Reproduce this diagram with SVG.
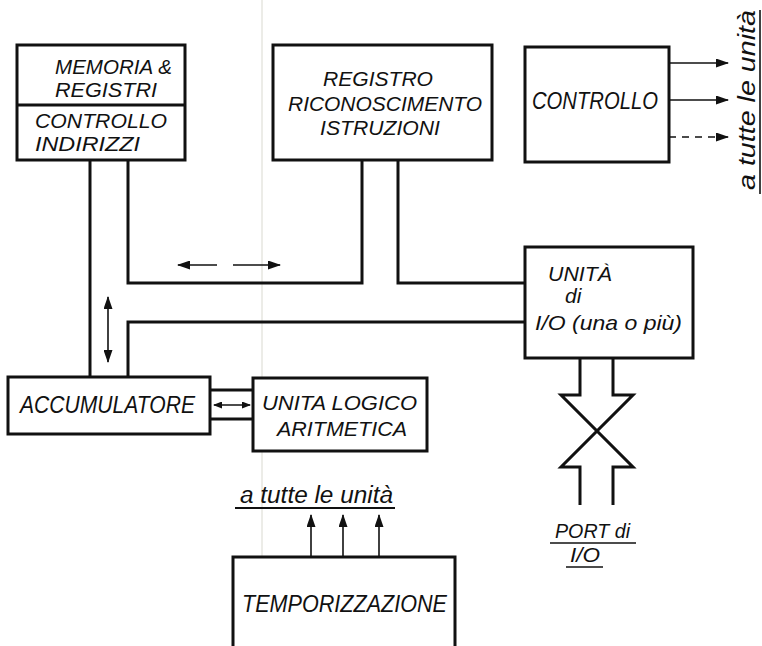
<svg xmlns="http://www.w3.org/2000/svg" width="762" height="646" viewBox="0 0 762 646">
<style>
.box{fill:#fff;stroke:#111;stroke-width:3}
.bus{fill:none;stroke:#111;stroke-width:3}
.thin{fill:none;stroke:#111;stroke-width:1.6}
.t{font-family:"Liberation Sans",Arial,sans-serif;font-style:italic;font-size:21px;fill:#111}
.lt{font-family:"Liberation Sans",Arial,sans-serif;font-style:italic;font-size:23px;fill:#111}
</style>
<defs>
<marker id="ah" markerUnits="userSpaceOnUse" markerWidth="13" markerHeight="9" refX="12" refY="4.5" orient="auto-start-reverse">
<path d="M0,0 L13,4.5 L0,9 z" fill="#111"/>
</marker>
<marker id="ahs" markerUnits="userSpaceOnUse" markerWidth="9" markerHeight="7" refX="8" refY="3.5" orient="auto-start-reverse">
<path d="M0,0 L9,3.5 L0,7 z" fill="#111"/>
</marker>
</defs>
<rect width="762" height="646" fill="#fff"/>
<line x1="262" y1="0" x2="262" y2="646" stroke="#d9d9d0" stroke-width="1"/>

<g id="connectors">
<path class="bus" d="M90,160 V377"/>
<path class="bus" d="M128,160 V283 H362 V160"/>
<path class="bus" d="M398,160 V283 H525"/>
<path class="bus" d="M128,377 V322 H525"/>
<path class="thin" d="M217,265 H178" marker-end="url(#ah)"/>
<path class="thin" d="M233,265 H280" marker-end="url(#ah)"/>
<path class="thin" d="M108,297 V362" marker-start="url(#ah)" marker-end="url(#ah)"/>
<path class="bus" d="M210,390 H253 M210,419 H253"/>
<path class="thin" d="M214,405 H250" marker-start="url(#ahs)" marker-end="url(#ahs)"/>
<path class="thin" d="M669,63 H728" marker-end="url(#ah)"/>
<path class="thin" d="M669,100 H728" marker-end="url(#ah)"/>
<path class="thin" d="M669,137 H728" stroke-dasharray="7,6" marker-end="url(#ah)"/>
<path class="thin" d="M311,557 V515" marker-end="url(#ah)"/>
<path class="thin" d="M343,557 V515" marker-end="url(#ah)"/>
<path class="thin" d="M379,557 V515" marker-end="url(#ah)"/>
<path class="bus" d="M580,358 V395 H561 L633,467 H613 V505"/>
<path class="bus" d="M613,358 V395 H633 L561,467 H580 V505"/>
</g>

<g id="memoria">
<rect class="box" x="17" y="45" width="168" height="115"/>
<line x1="17" y1="105" x2="185" y2="105" stroke="#111" stroke-width="3"/>
<text class="t" x="55" y="74" textLength="117" lengthAdjust="spacingAndGlyphs">MEMORIA &amp;</text>
<text class="t" x="55" y="97" textLength="102" lengthAdjust="spacingAndGlyphs">REGISTRI</text>
<text class="t" x="35" y="128" textLength="132" lengthAdjust="spacingAndGlyphs">CONTROLLO</text>
<text class="t" x="35" y="151" textLength="105" lengthAdjust="spacingAndGlyphs">INDIRIZZI</text>
</g>

<g id="registro">
<rect class="box" x="273" y="45" width="219" height="115"/>
<text class="t" x="323" y="86" textLength="110" lengthAdjust="spacingAndGlyphs">REGISTRO</text>
<text class="t" x="288" y="111" textLength="194" lengthAdjust="spacingAndGlyphs">RICONOSCIMENTO</text>
<text class="t" x="320" y="135" textLength="120" lengthAdjust="spacingAndGlyphs">ISTRUZIONI</text>
</g>

<g id="controllo">
<rect class="box" x="525" y="47" width="144" height="115"/>
<text class="lt" x="532" y="109" textLength="126" lengthAdjust="spacingAndGlyphs">CONTROLLO</text>
</g>

<g id="label-tutte-unita-right">
<text class="lt" transform="translate(755,190) rotate(-90)" x="0" y="0" textLength="180" lengthAdjust="spacingAndGlyphs">a tutte  le  unità</text>
<line x1="760" y1="10" x2="760" y2="194" stroke="#111" stroke-width="1.6"/>
</g>

<g id="io">
<rect class="box" x="525" y="247" width="168" height="111"/>
<text class="t" x="548" y="281" textLength="64" lengthAdjust="spacingAndGlyphs">UNITÀ</text>
<text class="t" x="565" y="303">di</text>
<text class="t" x="535" y="330" textLength="147" lengthAdjust="spacingAndGlyphs">I/O (una o più)</text>
</g>

<g id="accumulatore">
<rect class="box" x="8" y="377" width="202" height="57"/>
<text class="lt" x="20" y="413" textLength="175" lengthAdjust="spacingAndGlyphs">ACCUMULATORE</text>
</g>

<g id="alu">
<rect class="box" x="253" y="378" width="174" height="73"/>
<text class="t" x="262" y="410" textLength="155" lengthAdjust="spacingAndGlyphs">UNITA LOGICO</text>
<text class="t" x="277" y="436" textLength="130" lengthAdjust="spacingAndGlyphs">ARITMETICA</text>
</g>

<g id="label-tutte-unita-bottom">
<text class="lt" x="240" y="503" textLength="153" lengthAdjust="spacingAndGlyphs">a tutte le unità</text>
<line x1="235" y1="508" x2="395" y2="508" stroke="#111" stroke-width="2"/>
</g>

<g id="port">
<text class="t" x="555" y="538" textLength="75" lengthAdjust="spacingAndGlyphs">PORT di</text>
<line x1="550" y1="543" x2="636" y2="543" stroke="#111" stroke-width="1.6"/>
<text class="t" x="570" y="562" textLength="30" lengthAdjust="spacingAndGlyphs">I/O</text>
<line x1="566" y1="567" x2="603" y2="567" stroke="#111" stroke-width="1.6"/>
</g>

<g id="temporizzazione">
<path class="box" d="M233,646 V557 H455 V646"/>
<text class="lt" x="242" y="612" textLength="205" lengthAdjust="spacingAndGlyphs">TEMPORIZZAZIONE</text>
</g>
</svg>
